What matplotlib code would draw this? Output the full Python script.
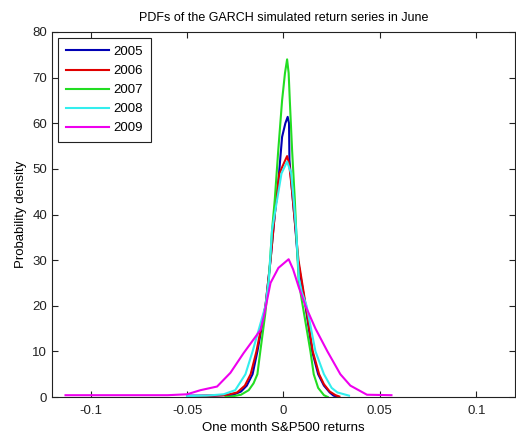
import matplotlib
matplotlib.use("Agg")
import matplotlib.pyplot as plt

plt.rcParams['font.family'] = ['Liberation Sans', 'DejaVu Sans']

# Estimated density curves (return, density) for each June
x_2005 = [-0.050, -0.036, -0.026, -0.022, -0.019, -0.016, -0.0135, -0.0093, -0.0067,
          -0.0045, -0.0027, -0.0007, 0.001, 0.0022, 0.0029, 0.0031, 0.0045, 0.006,
          0.0075, 0.0114, 0.0149, 0.018, 0.021, 0.024, 0.026, 0.028]
y_2005 = [0.3, 0.3, 0.5, 1.2, 2.5, 5, 10, 20, 30,
          40, 46.9, 57, 60, 61.4, 60, 52, 45, 38,
          30, 20, 10, 5, 2.5, 1, 0.3, 0.1]

x_2006 = [-0.045, -0.030, -0.024, -0.020, -0.017, -0.014, -0.0093, -0.0067,
          -0.0045, -0.0027, -0.0021, 0.0005, 0.0019, 0.003, 0.0045, 0.006,
          0.0078, 0.0116, 0.0152, 0.0185, 0.021, 0.024, 0.027, 0.029]
y_2006 = [0.2, 0.4, 1.0, 2.5, 5, 10, 20, 30,
          40, 47, 49, 51.5, 52.8, 51, 45, 38,
          30, 20, 10, 5, 2.8, 1.2, 0.4, 0.1]

x_2007 = [-0.030, -0.027, -0.022, -0.018, -0.0155, -0.0135, -0.012, -0.0095,
          -0.0076, -0.0059, -0.0045, -0.0027, -0.0007, 0.0008, 0.0019, 0.0027,
          0.0033, 0.0045, 0.0059, 0.0066, 0.0079, 0.0092, 0.0104, 0.014,
          0.0157, 0.018, 0.021, 0.023]
y_2007 = [0.0, 0.1, 0.5, 1.5, 3, 5, 10, 18,
          25.6, 36.6, 43.2, 54, 65, 71, 74, 71,
          65, 54, 43.2, 36.6, 25.6, 22, 19, 10,
          5, 2, 0.4, 0.0]

x_2008 = [-0.050, -0.040, -0.031, -0.025, -0.0197, -0.016, -0.0093, -0.0075,
          -0.0059, -0.0033, -0.001, 0.0019, 0.004, 0.0053, 0.0066, 0.008,
          0.0095, 0.012, 0.0166, 0.021, 0.025, 0.028, 0.034]
y_2008 = [0.2, 0.3, 0.6, 1.5, 5, 10, 20, 26,
          36.6, 43.2, 49, 51.6, 49, 43.2, 36.6, 26,
          23, 20, 10, 5, 2, 1, 0.3]

x_2009 = [-0.113, -0.060, -0.050, -0.043, -0.0344, -0.0275, -0.0207, -0.0119,
          -0.0102, -0.0067, -0.0026, 0.0027, 0.005, 0.008, 0.0114, 0.0166,
          0.0228, 0.0295, 0.0347, 0.0433, 0.056]
y_2009 = [0.4, 0.4, 0.6, 1.5, 2.3, 5.3, 9.6, 14.7,
          17.6, 25, 28.3, 30.2, 28, 24, 20, 15,
          10, 5, 2.5, 0.5, 0.4]

years = ['2005', '2006', '2007', '2008', '2009']
colors = ['#0000b4', '#e00000', '#22dd22', '#33eeee', '#ee00ee']
curves = [(x_2005, y_2005), (x_2006, y_2006), (x_2007, y_2007),
          (x_2008, y_2008), (x_2009, y_2009)]

fig = plt.figure(figsize=(5.16, 4.37), dpi=100)
ax = fig.add_axes([0.1008, 0.0915, 0.897, 0.8353])

for (xs, ys), c, lab in zip(curves, colors, years):
    ax.plot(xs, ys, color=c, lw=1.5, label=lab)

ax.set_xlim(-0.12, 0.12)
ax.set_ylim(0, 80)
ax.set_xticks([-0.1, -0.05, 0, 0.05, 0.1])
ax.set_xticklabels(['-0.1', '-0.05', '0', '0.05', '0.1'])
ax.set_yticks(range(0, 81, 10))
ax.tick_params(direction='in', top=True, right=True, labelsize=9.5, length=4,
               colors='#222222')
ax.tick_params(axis='x', pad=6)
for s in ax.spines.values():
    s.set_color('#222222')
    s.set_linewidth(0.8)

ax.set_title('PDFs of the GARCH simulated return series in June', fontsize=9, pad=8)
ax.set_xlabel('One month S&P500 returns', fontsize=9.5, labelpad=3)
ax.set_ylabel('Probability density', fontsize=9.5, labelpad=4)

leg = ax.legend(loc='upper left', fontsize=9.5, handlelength=3.3, fancybox=False,
                framealpha=1, edgecolor='#222222', borderpad=0.6,
                labelspacing=0.52, handletextpad=0.3, borderaxespad=0.45)
leg.get_frame().set_linewidth(0.8)

fig.savefig('out.png', dpi=100)
